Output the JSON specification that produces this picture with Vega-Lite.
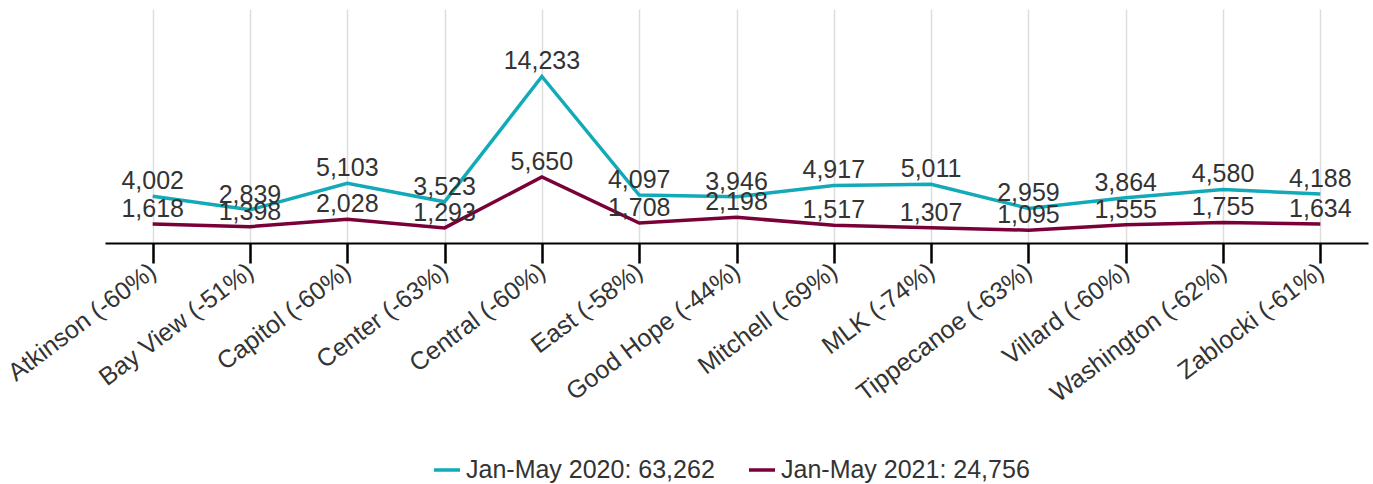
{
  "$schema": "https://vega.github.io/schema/vega-lite/v6.json",
  "width": 1263,
  "height": 234,
  "autosize": {"type": "none"},
  "padding": {"left": 105, "top": 9, "right": 5, "bottom": 241},
  "background": "white",
  "config": {
    "font": "Liberation Sans",
    "view": {"stroke": null}
  },
  "data": {
    "values": [
      {"cat": "Atkinson (-60%)", "series": "Jan-May 2020: 63,262", "value": 4002},
      {"cat": "Bay View (-51%)", "series": "Jan-May 2020: 63,262", "value": 2839},
      {"cat": "Capitol (-60%)", "series": "Jan-May 2020: 63,262", "value": 5103},
      {"cat": "Center (-63%)", "series": "Jan-May 2020: 63,262", "value": 3523},
      {"cat": "Central (-60%)", "series": "Jan-May 2020: 63,262", "value": 14233},
      {"cat": "East (-58%)", "series": "Jan-May 2020: 63,262", "value": 4097},
      {"cat": "Good Hope (-44%)", "series": "Jan-May 2020: 63,262", "value": 3946},
      {"cat": "Mitchell (-69%)", "series": "Jan-May 2020: 63,262", "value": 4917},
      {"cat": "MLK (-74%)", "series": "Jan-May 2020: 63,262", "value": 5011},
      {"cat": "Tippecanoe (-63%)", "series": "Jan-May 2020: 63,262", "value": 2959},
      {"cat": "Villard (-60%)", "series": "Jan-May 2020: 63,262", "value": 3864},
      {"cat": "Washington (-62%)", "series": "Jan-May 2020: 63,262", "value": 4580},
      {"cat": "Zablocki (-61%)", "series": "Jan-May 2020: 63,262", "value": 4188},
      {"cat": "Atkinson (-60%)", "series": "Jan-May 2021: 24,756", "value": 1618},
      {"cat": "Bay View (-51%)", "series": "Jan-May 2021: 24,756", "value": 1398},
      {"cat": "Capitol (-60%)", "series": "Jan-May 2021: 24,756", "value": 2028},
      {"cat": "Center (-63%)", "series": "Jan-May 2021: 24,756", "value": 1293},
      {"cat": "Central (-60%)", "series": "Jan-May 2021: 24,756", "value": 5650},
      {"cat": "East (-58%)", "series": "Jan-May 2021: 24,756", "value": 1708},
      {"cat": "Good Hope (-44%)", "series": "Jan-May 2021: 24,756", "value": 2198},
      {"cat": "Mitchell (-69%)", "series": "Jan-May 2021: 24,756", "value": 1517},
      {"cat": "MLK (-74%)", "series": "Jan-May 2021: 24,756", "value": 1307},
      {"cat": "Tippecanoe (-63%)", "series": "Jan-May 2021: 24,756", "value": 1095},
      {"cat": "Villard (-60%)", "series": "Jan-May 2021: 24,756", "value": 1555},
      {"cat": "Washington (-62%)", "series": "Jan-May 2021: 24,756", "value": 1755},
      {"cat": "Zablocki (-61%)", "series": "Jan-May 2021: 24,756", "value": 1634}
    ]
  },
  "encoding": {
    "x": {
      "field": "cat",
      "type": "nominal",
      "sort": null,
      "scale": {"type": "point", "padding": 0.49},
      "axis": {
        "title": null,
        "grid": true,
        "gridColor": "#dddddd",
        "gridWidth": 1.5,
        "domainColor": "#000000",
        "domainWidth": 2,
        "tickColor": "#000000",
        "tickWidth": 2.5,
        "tickSize": 20,
        "labelAngle": -37,
        "labelFontSize": 25,
        "labelColor": "#333333",
        "labelPadding": 5,
        "labelAlign": "right",
        "labelBaseline": "middle",
        "labelLimit": 0
      }
    },
    "y": {
      "field": "value",
      "type": "quantitative",
      "scale": {"domain": [0, 20000], "nice": false},
      "axis": null
    },
    "color": {
      "field": "series",
      "type": "nominal",
      "scale": {"range": ["#12aab9", "#7a0038"]},
      "legend": {
        "title": null,
        "orient": "none",
        "legendX": 327,
        "legendY": 446,
        "direction": "horizontal",
        "symbolType": "stroke",
        "symbolSize": 676,
        "symbolStrokeWidth": 3.5,
        "labelFontSize": 25,
        "labelColor": "#333333",
        "labelLimit": 0,
        "columnPadding": 27
      }
    }
  },
  "layer": [
    {"mark": {"type": "line", "strokeWidth": 3.5}},
    {
      "mark": {"type": "text", "fontSize": 25, "color": "#333333", "baseline": "alphabetic", "dy": -7},
      "encoding": {
        "text": {"field": "value", "type": "quantitative", "format": ","},
        "color": {"value": "#333333"}
      }
    }
  ]
}
